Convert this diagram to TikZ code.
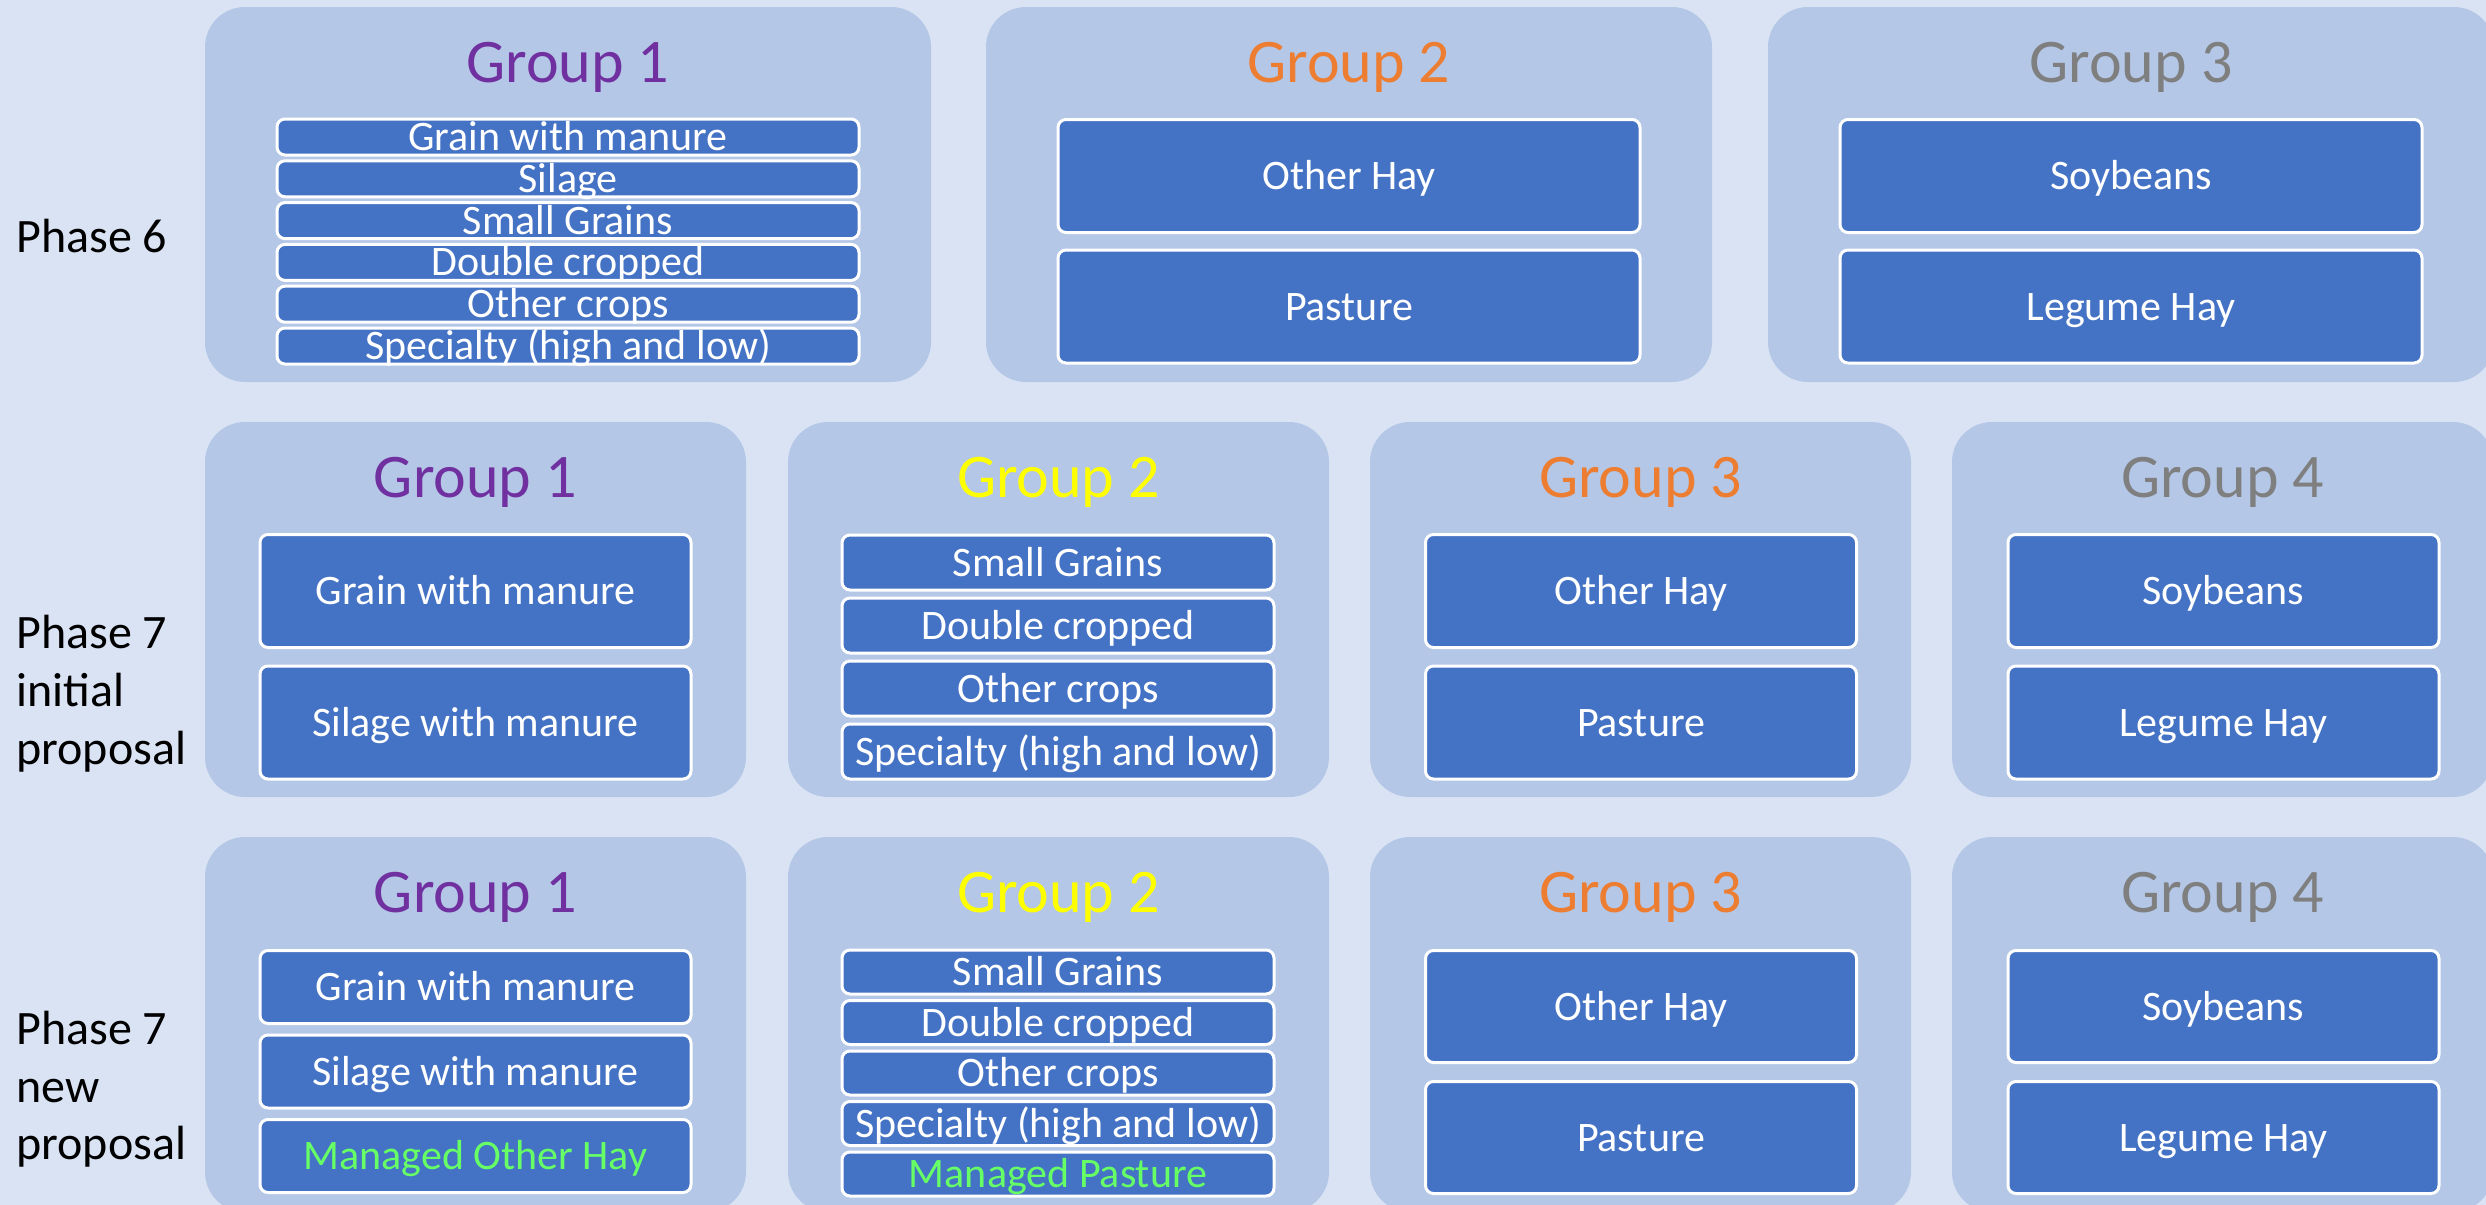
\documentclass[tikz,border=0pt]{standalone}
\usepackage{fontspec}
\setmainfont{Carlito}
\definecolor{bgc}{HTML}{DAE3F3}
\definecolor{panelc}{HTML}{B4C7E7}
\definecolor{cellc}{HTML}{4472C4}
\definecolor{gpurple}{HTML}{7030A0}
\definecolor{gorange}{HTML}{ED7D31}
\definecolor{ggray}{HTML}{7F7F7F}
\definecolor{gyellow}{HTML}{FFFF00}
\definecolor{ggreen}{HTML}{66FF66}
\tikzset{
  panel/.style={rectangle, rounded corners=20pt, fill=panelc, draw=none, inner sep=0pt},
  cell/.style={rectangle, rounded corners=4pt, fill=cellc, draw=white, line width=1.5pt,
    inner sep=0pt, text=white, font=\fontsize{21}{25}\selectfont,
    text height=13.5pt, text depth=0pt},
  grouptitle/.style={anchor=base, inner sep=0pt, font=\fontsize{31}{37}\selectfont},
  phaselabel/.style={anchor=base west, inner sep=0pt, font=\fontsize{24}{29}\selectfont, text=black},
  greentext/.style={text=ggreen}
}
\begin{document}
\begin{tikzpicture}[x=0.5pt,y=-0.5pt]
\useasboundingbox (0,0) rectangle (2486,1205);
\fill[bgc] (0,0) rectangle (2486,1205);
\clip (0,0) rectangle (2486,1205);

% ---------- Phase labels
\node[phaselabel] (p6) at (16,252) {Phase 6};
\node[phaselabel] (p7a1) at (16,648) {Phase 7};
\node[phaselabel] (p7a2) at (16,706) {initial};
\node[phaselabel] (p7a3) at (16,764) {proposal};
\node[phaselabel] (p7b1) at (16,1044) {Phase 7};
\node[phaselabel] (p7b2) at (16,1102) {new};
\node[phaselabel] (p7b3) at (16,1159) {proposal};

% ---------- Row 1 (Phase 6)
\node[panel, minimum width=363pt, minimum height=187.5pt] (r1p1) at (568,194.5) {};
\node[panel, minimum width=363pt, minimum height=187.5pt] (r1p2) at (1349,194.5) {};
\node[panel, minimum width=363pt, minimum height=187.5pt] (r1p3) at (2131,194.5) {};
\node[grouptitle, text=gpurple] (r1t1) at (568,82) {Group 1};
\node[grouptitle, text=gorange] (r1t2) at (1349,82) {Group 2};
\node[grouptitle, text=ggray] (r1t3) at (2131,82) {Group 3};

\begin{scope}[every node/.append style={cell, minimum width=291pt, minimum height=18pt}]
\node (r1a) at (568,137) {Grain with manure};
\node (r1b) at (568,178.8) {Silage};
\node (r1c) at (568,220.6) {Small Grains};
\node (r1d) at (568,262.4) {Double cropped};
\node (r1e) at (568,304.2) {Other crops};
\node (r1f) at (568,346) {Specialty (high and low)};
\end{scope}
\begin{scope}[every node/.append style={cell, minimum width=291pt, minimum height=56.5pt}]
\node (r1g) at (1349,176) {Other Hay};
\node (r1h) at (1349,306.5) {Pasture};
\node (r1i) at (2131,176) {Soybeans};
\node (r1j) at (2131,306.5) {Legume Hay};
\end{scope}

% ---------- Row 2 (Phase 7 initial proposal)
\foreach \cx/\nm in {475.5/a,1058.5/b,1640.5/c,2222.5/d}{
  \node[panel, minimum width=270.5pt, minimum height=187.5pt] (r2p\nm) at (\cx,609.5) {};
}
\node[grouptitle, text=gpurple] (r2t1) at (475.5,497) {Group 1};
\node[grouptitle, text=gyellow] (r2t2) at (1058.5,497) {Group 2};
\node[grouptitle, text=gorange] (r2t3) at (1640.5,497) {Group 3};
\node[grouptitle, text=ggray] (r2t4) at (2222.5,497) {Group 4};

\begin{scope}[every node/.append style={cell, minimum width=215.5pt, minimum height=56.5pt}]
\node (r2a) at (475.5,591) {Grain with manure};
\node (r2b) at (475.5,722.5) {Silage with manure};
\node (r2g) at (1641,591) {Other Hay};
\node (r2h) at (1641,722.5) {Pasture};
\node (r2i) at (2223.5,591) {Soybeans};
\node (r2j) at (2223.5,722.5) {Legume Hay};
\end{scope}
\begin{scope}[every node/.append style={cell, minimum width=216pt, minimum height=27.5pt}]
\node (r2c) at (1058,562.5) {Small Grains};
\node (r2d) at (1058,625.5) {Double cropped};
\node (r2e) at (1058,688.5) {Other crops};
\node (r2f) at (1058,751.5) {Specialty (high and low)};
\end{scope}

% ---------- Row 3 (Phase 7 new proposal)
\foreach \cx/\nm in {475.5/a,1058.5/b,1640.5/c,2222.5/d}{
  \node[panel, minimum width=270.5pt, minimum height=187.5pt] (r3p\nm) at (\cx,1024.5) {};
}
\node[grouptitle, text=gpurple] (r3t1) at (475.5,912) {Group 1};
\node[grouptitle, text=gyellow] (r3t2) at (1058.5,912) {Group 2};
\node[grouptitle, text=gorange] (r3t3) at (1640.5,912) {Group 3};
\node[grouptitle, text=ggray] (r3t4) at (2222.5,912) {Group 4};

\begin{scope}[every node/.append style={cell, minimum width=215.5pt, minimum height=36.5pt}]
\node (r3a) at (475.5,987) {Grain with manure};
\node (r3b) at (475.5,1071.5) {Silage with manure};
\node[greentext] (r3k) at (475.5,1156) {Managed Other Hay};
\end{scope}
\begin{scope}[every node/.append style={cell, minimum width=216pt, minimum height=22pt}]
\node (r3c) at (1058,972) {Small Grains};
\node (r3d) at (1058,1022.5) {Double cropped};
\node (r3e) at (1058,1073) {Other crops};
\node (r3f) at (1058,1123.5) {Specialty (high and low)};
\node[greentext] (r3l) at (1058,1174) {Managed Pasture};
\end{scope}
\begin{scope}[every node/.append style={cell, minimum width=215.5pt, minimum height=56pt}]
\node (r3g) at (1641,1006.5) {Other Hay};
\node (r3h) at (1641,1137.5) {Pasture};
\node (r3i) at (2223.5,1006.5) {Soybeans};
\node (r3j) at (2223.5,1137.5) {Legume Hay};
\end{scope}
\end{tikzpicture}
\end{document}
